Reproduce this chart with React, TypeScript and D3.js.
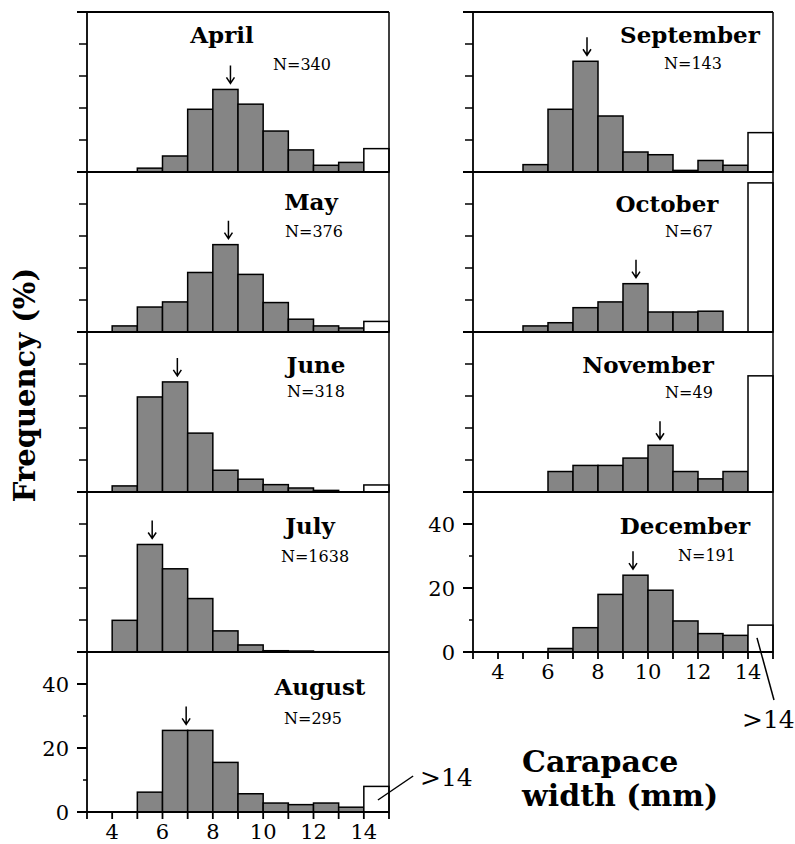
import React from 'react';
import * as d3 from 'd3';

// ---------- data ----------
const binStarts = [4, 5, 6, 7, 8, 9, 10, 11, 12, 13];
const monthNames = ['April', 'May', 'June', 'July', 'August', 'September', 'October', 'November', 'December'];
const sampleSizes = [340, 376, 318, 1638, 295, 143, 67, 49, 191];

const april = [0, 1.2, 5.0, 19.6, 25.8, 21.2, 12.8, 6.9, 2.1, 3.0];
const may = [1.9, 7.8, 9.4, 18.6, 27.3, 18.0, 9.2, 4.0, 1.9, 1.25];
const june = [1.9, 29.7, 34.4, 18.4, 6.8, 4.0, 2.3, 1.25, 0.5, 0];
const july = [9.9, 33.6, 26.0, 16.7, 6.6, 2.2, 0.4, 0.3, 0.1, 0];
const august = [0, 6.2, 25.5, 25.5, 15.5, 5.7, 2.8, 2.3, 2.8, 1.5];
const september = [0, 2.3, 19.6, 34.6, 17.5, 6.25, 5.4, 0.5, 3.6, 2.1];
const october = [0, 1.9, 2.9, 7.6, 9.4, 15.1, 6.25, 6.25, 6.5, 0];
const november = [0, 0, 6.4, 8.3, 8.3, 10.6, 14.6, 6.4, 4.1, 6.4];
const december = [0, 0, 1.1, 7.6, 18.0, 24.0, 19.3, 9.7, 5.75, 5.2];
const monthlyBins = [april, may, june, july, august, september, october, november, december];

const over14 = [7.3, 3.3, 2.2, 0, 8.0, 12.3, 46.6, 36.3, 8.4];
const meanWidth = [8.7, 8.62, 6.59, 5.59, 6.94, 7.56, 9.52, 10.48, 9.4];

const xTickLabels = [4, 6, 8, 10, 12, 14];
const yTickLabels = [0, 20, 40];

// ---------- layout ----------
const W = 795;
const H = 844;
const TOP = 12;
const PANEL_H = 160;
const columns = [
  { x0: 87, x1: 389, rows: 5 },
  { x0: 473, x1: 773, rows: 4 },
];
// label layout: [title center dx, title baseline dy, N center dx, N baseline dy]
const labelLayout = [
  [135, 31, 215, 58],
  [224, 38, 227, 65],
  [229, 41, 229, 65],
  [223, 42, 228, 70],
  [233, 43, 226, 72],
  [217, 31, 220, 57],
  [194, 40, 216, 65],
  [175, 41, 216, 66],
  [212, 42, 234, 69],
];

const FONT = "'DejaVu Serif', 'Liberation Serif', serif";
const BAR_FILL = '#858585';

function Panel({ idx }: { idx: number }) {
  const col = idx < 5 ? 0 : 1;
  const row = idx < 5 ? idx : idx - 5;
  const { x0, x1, rows } = columns[col];
  const isBottom = row === rows - 1;
  const top = TOP + row * PANEL_H;
  const x = d3.scaleLinear().domain([3, 15]).range([x0, x1]);
  const y = d3.scaleLinear().domain([0, 50]).range([top + PANEL_H, top]);
  const vals = monthlyBins[idx];
  const lay = labelLayout[idx];

  // arrow
  const mean = meanWidth[idx];
  const binIdx = binStarts.findIndex((b) => mean >= b && mean < b + 1);
  const barTop = y(vals[binIdx]);
  const tipY = barTop - 6;
  const ax = x(mean);

  const minorTicks = isBottom ? [10, 30] : [10, 20, 30, 40];

  return (
    <g>
      {/* bars */}
      {binStarts.map((b, i) =>
        vals[i] > 0 ? (
          <rect
            key={b}
            x={x(b)}
            y={y(vals[i])}
            width={x(b + 1) - x(b)}
            height={y(0) - y(vals[i])}
            fill={BAR_FILL}
            stroke="#000"
            strokeWidth={1.5}
          />
        ) : null
      )}
      {over14[idx] > 0 && (
        <rect
          x={x(14)}
          y={y(over14[idx])}
          width={x(15) - x(14)}
          height={y(0) - y(over14[idx])}
          fill="#fff"
          stroke="#000"
          strokeWidth={1.5}
        />
      )}
      {/* frame */}
      <line x1={x0 - 10} x2={x1} y1={top} y2={top} stroke="#000" strokeWidth={1.8} />
      <line x1={x0} x2={x0} y1={top} y2={top + PANEL_H} stroke="#000" strokeWidth={1.8} />
      <line x1={x1} x2={x1} y1={top} y2={top + PANEL_H} stroke="#000" strokeWidth={1.5} />
      {isBottom && (
        <line x1={x0 - 10} x2={x1} y1={y(0)} y2={y(0)} stroke="#000" strokeWidth={2} />
      )}
      {/* y ticks */}
      {minorTicks.map((t) => (
        <line
          key={'m' + t}
          x1={x0 - (isBottom ? 4 : 8)}
          x2={x0}
          y1={y(t)}
          y2={y(t)}
          stroke="#000"
          strokeWidth={1.5}
        />
      ))}
      {isBottom &&
        yTickLabels.map((t) => (
          <g key={'y' + t}>
            <line x1={x0 - 10} x2={x0} y1={y(t)} y2={y(t)} stroke="#000" strokeWidth={2} />
            <text
              x={x0 - 18}
              y={y(t)}
              dy="0.36em"
              textAnchor="end"
              fontFamily={FONT}
              fontSize={21}
            >
              {t}
            </text>
          </g>
        ))}
      {/* x ticks */}
      {isBottom &&
        d3.range(3, 16).map((t) => (
          <line
            key={'x' + t}
            x1={x(t)}
            x2={x(t)}
            y1={y(0)}
            y2={y(0) + 7}
            stroke="#000"
            strokeWidth={1.8}
          />
        ))}
      {isBottom &&
        xTickLabels.map((t) => (
          <text
            key={'xl' + t}
            x={x(t)}
            y={y(0) + 27}
            textAnchor="middle"
            fontFamily={FONT}
            fontSize={21}
          >
            {t}
          </text>
        ))}
      {/* mean arrow */}
      <path
        d={`M${ax},${tipY - 18}L${ax},${tipY}M${ax - 4},${tipY - 6}L${ax},${tipY}L${ax + 4},${tipY - 6}`}
        fill="none"
        stroke="#000"
        strokeWidth={1.5}
      />
      {/* labels */}
      <text
        x={x0 + lay[0]}
        y={top + lay[1]}
        textAnchor="middle"
        fontFamily={FONT}
        fontWeight="bold"
        fontSize={23}
      >
        {monthNames[idx]}
      </text>
      <text
        x={x0 + lay[2]}
        y={top + lay[3]}
        textAnchor="middle"
        fontFamily={FONT}
        fontSize={16}
      >
        {'N=' + sampleSizes[idx]}
      </text>
    </g>
  );
}

export default function App() {
  // callout scales (bottom panels)
  const xl = d3.scaleLinear().domain([3, 15]).range([columns[0].x0, columns[0].x1]);
  const yl = d3.scaleLinear().domain([0, 50]).range([TOP + 5 * PANEL_H, TOP + 4 * PANEL_H]);
  const xr = d3.scaleLinear().domain([3, 15]).range([columns[1].x0, columns[1].x1]);
  const yr = d3.scaleLinear().domain([0, 50]).range([TOP + 4 * PANEL_H, TOP + 3 * PANEL_H]);

  return (
    <svg
      width={W}
      height={H}
      viewBox={`0 0 ${W} ${H}`}
      style={{ position: 'absolute', left: 0, top: 0, background: '#fff' }}
    >
      <rect x={0} y={0} width={W} height={H} fill="#fff" />
      {monthNames.map((m, i) => (
        <Panel key={m} idx={i} />
      ))}
      {/* >14 callouts */}
      <line x1={xl(14.56)} y1={yl(3.75)} x2={xl(15.96)} y2={yl(11.25)} stroke="#000" strokeWidth={1.5} />
      <text x={xl(16.23)} y={yl(8.1)} fontFamily={FONT} fontSize={25}>
        {'>14'}
      </text>
      <line x1={xr(14.36)} y1={yr(4.4)} x2={xr(15.04)} y2={yr(-15)} stroke="#000" strokeWidth={1.5} />
      <text x={xr(13.76)} y={yr(-23.75)} fontFamily={FONT} fontSize={25}>
        {'>14'}
      </text>
      {/* axis titles */}
      <text
        transform="translate(35,385) rotate(-90)"
        textAnchor="middle"
        fontFamily={FONT}
        fontWeight="bold"
        fontSize={29}
      >
        Frequency (%)
      </text>
      <text x={522} y={772} fontFamily={FONT} fontWeight="bold" fontSize={30}>
        Carapace
      </text>
      <text x={522} y={806} fontFamily={FONT} fontWeight="bold" fontSize={30}>
        width (mm)
      </text>
    </svg>
  );
}
